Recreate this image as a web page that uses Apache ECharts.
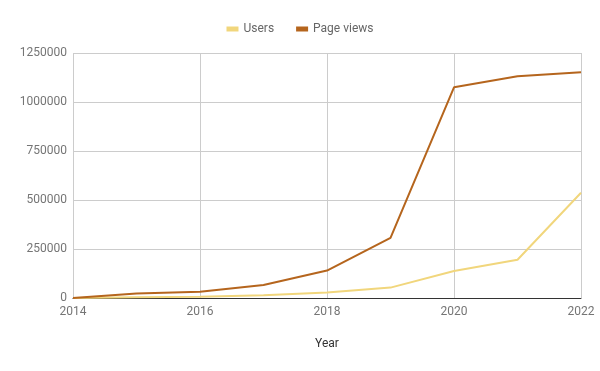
<!DOCTYPE html>
<html>
<head>
<meta charset="utf-8">
<script src="https://cdn.jsdelivr.net/npm/echarts@6/dist/echarts.min.js"></script>
<style>html,body{margin:0;padding:0;background:#fff;}#c{width:600px;height:371px;}</style>
</head>
<body>
<div id="c"></div>
<script>
const years = [2014, 2015, 2016, 2017, 2018, 2019, 2020, 2021, 2022];
const users = [0, 4000, 7000, 14000, 28000, 53000, 138000, 195000, 537000];
const pageViews = [0, 23000, 32000, 66000, 140000, 307000, 1075000, 1131000, 1152000];
const seriesNames = ['Users', 'Page views'];
const colors = ['#f1d67c', '#b5651d'];

const chart = echarts.init(document.getElementById('c'));
const font = 'Roboto, Arial, sans-serif';
chart.setOption({
  animation: false,
  color: colors,
  textStyle: { fontFamily: font },
  legend: {
    top: 18, left: 'center',
    itemWidth: 12, itemHeight: 5, itemGap: 22,
    icon: 'rect',
    textStyle: { color: '#666', fontSize: 12, fontFamily: font },
    data: seriesNames
  },
  grid: { left: 73, right: 19, top: 53, bottom: 73, containLabel: false },
  xAxis: {
    type: 'value', min: 2014, max: 2022, interval: 2,
    name: 'Year', nameLocation: 'middle', nameGap: 40,
    nameTextStyle: { color: '#333', fontSize: 12, fontFamily: font },
    axisLine: { show: true, onZero: false, lineStyle: { color: '#333', width: 1 } },
    axisTick: { show: false },
    axisLabel: { color: '#757575', fontSize: 12, margin: 8, fontFamily: font, formatter: v => String(v) },
    splitLine: { show: true, lineStyle: { color: '#ccc', width: 1 } }
  },
  yAxis: {
    type: 'value', min: 0, max: 1250000, interval: 250000,
    axisLine: { show: false },
    axisTick: { show: false },
    axisLabel: { color: '#757575', fontSize: 12, margin: 6, fontFamily: font, formatter: v => String(v) },
    splitLine: { show: true, lineStyle: { color: '#ccc', width: 1 } }
  },
  series: [
    { name: seriesNames[0], type: 'line', showSymbol: false, symbol: 'none',
      lineStyle: { width: 2, color: colors[0] },
      data: years.map((y, i) => [y, users[i]]) },
    { name: seriesNames[1], type: 'line', showSymbol: false, symbol: 'none',
      lineStyle: { width: 2, color: colors[1] },
      data: years.map((y, i) => [y, pageViews[i]]) }
  ]
});
</script>
</body>
</html>
